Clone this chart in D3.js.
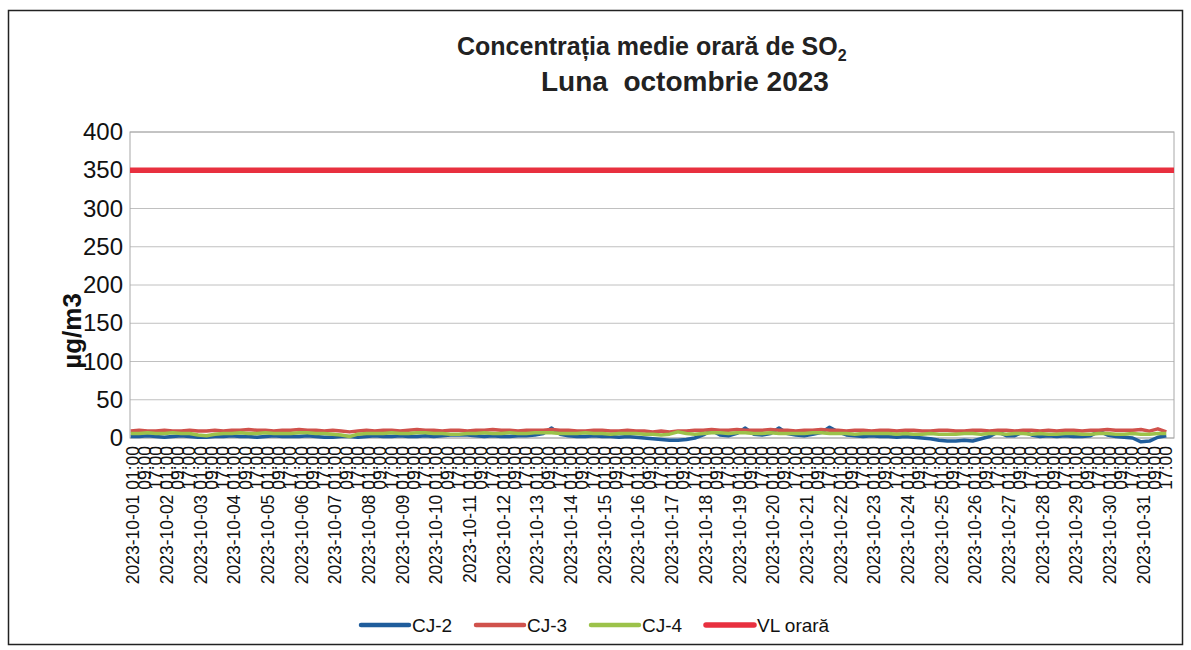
<!DOCTYPE html>
<html>
<head>
<meta charset="utf-8">
<script src="https://cdn.jsdelivr.net/npm/d3@7"></script>
<style>
body { margin: 0; background: #fff; }
svg { display: block; font-family: "Liberation Sans", Arial, sans-serif; }
</style>
</head>
<body>
<svg id="chart" width="1191" height="650"></svg>
<script>
// values read every 6 hours (124 points over the 744 hours of October)
var stepHours = 6;
var cj2 = [2,2,3,2,1,2,3,2,1,1, 2,2,3,2,2,1,2,3,2,2, 2,3,2,1,1,2,2,1,2,3, 2,2,3,2,2,3,2,3,4,4,
  4,3,2,3,2,2,3,3,4,6, 13,5,3,2,2,3,2,2,1,2, 1,0,-1,-2,-3,-3,-2,0,4,10, 4,3,6,13,5,4,6,13,6,4,
  3,5,7,14,8,4,3,2,3,2, 2,1,2,1,0,-1,-3,-4,-4,-3, -4,-1,2,8,3,3,8,4,2,3, 2,3,2,2,3,9,4,2,1,0,
  -5,-4,1,3];
var cj3 = [9,10,9,9,10,9,9,10,9,9, 10,9,10,10,11,10,10,9,10,10, 11,10,10,9,10,9,8,9,10,9, 10,10,9,10,11,10,10,9,10,10,
  9,10,10,11,10,10,9,10,10,10, 11,10,10,9,9,10,10,9,9,10, 9,9,8,9,8,9,9,10,10,11, 10,10,11,10,10,10,11,10,10,9,
  10,10,11,10,10,9,10,10,9,10, 10,9,10,10,9,9,10,10,9,9, 10,10,9,10,10,9,10,10,9,10, 9,10,10,9,10,10,11,10,10,10,
  11,9,12,8];
var cj4 = [6,6,7,6,6,7,6,6,4,3, 5,6,6,7,6,6,7,6,6,6, 7,7,6,6,5,4,2,5,6,6, 6,7,6,6,7,7,6,6,5,5,
  6,6,7,6,6,7,6,6,7,7, 7,6,6,6,7,6,6,5,6,6, 6,5,5,4,5,8,6,5,6,7, 7,6,7,7,6,6,7,6,6,6,
  6,7,7,6,6,6,5,6,6,6, 6,5,6,5,5,6,5,5,5,6, 6,5,6,6,5,6,6,5,6,5, 5,6,6,5,5,6,6,5,5,6,
  5,5,6,6];
var vlOrara = 350;
var totalHours = 744;
var yTicks = [0,50,100,150,200,250,300,350,400];
var tickHours = [1, 9, 17]; // hours of day that carry a label

var seriesNames = ["CJ-2", "CJ-3", "CJ-4", "VL orară"];
var seriesColors = ["#1f5d9c", "#d0524c", "#9cc24a", "#e8303f"];

var svg = d3.select("#chart");
var margin = {left: 130, right: 17, top: 132, bottom: 212};
var width = 1191 - margin.left - margin.right;
var height = 650 - margin.top - margin.bottom;

// outer frame
svg.append("rect")
  .attr("x", 8.5).attr("y", 10.5)
  .attr("width", 1174).attr("height", 634)
  .attr("fill", "none").attr("stroke", "#222").attr("stroke-width", 1.5);

// title
var title = svg.append("text")
  .attr("font-weight", "bold")
  .attr("font-size", 25)
  .attr("fill", "#222");
title.append("tspan").attr("x", 457).attr("y", 55).text("Concentrația medie orară de SO");
title.append("tspan").attr("font-size", 16).attr("dy", 6).text("2");
title.append("tspan").attr("x", 541).attr("y", 91).attr("font-size", 28)
  .attr("xml:space", "preserve").text("Luna  octombrie 2023");

var g = svg.append("g").attr("transform", "translate(" + margin.left + "," + margin.top + ")");

var x = d3.scaleLinear().domain([0, totalHours]).range([0, width]);
var y = d3.scaleLinear().domain([0, 400]).range([height, 0]);

// grid lines
g.append("g")
  .selectAll("line")
  .data(yTicks)
  .enter().append("line")
  .attr("x1", 0).attr("x2", width)
  .attr("y1", function(d) { return y(d); })
  .attr("y2", function(d) { return y(d); })
  .attr("stroke", "#c0c0c0").attr("stroke-width", 1);

g.append("rect")
  .attr("width", width).attr("height", height)
  .attr("fill", "none").attr("stroke", "#a8a8a8");

// y axis
var yAxis = g.append("g")
  .call(d3.axisLeft(y).tickValues(yTicks).tickSize(0).tickPadding(7));
yAxis.select(".domain").remove();
yAxis.selectAll("text")
  .attr("font-size", 24)
  .attr("font-family", "Liberation Sans, Arial, sans-serif")
  .attr("fill", "#111");

svg.append("text")
  .attr("transform", "translate(81,331) rotate(-90)")
  .attr("text-anchor", "middle")
  .attr("font-weight", "bold")
  .attr("font-size", 26)
  .attr("fill", "#111")
  .text("µg/m3");

// x axis labels, every 8 hours
var labels = [];
for (var h = 0; h < totalHours; h++) {
  var hod = h % 24 + 1;
  if (tickHours.indexOf(hod) >= 0) {
    var day = Math.floor(h / 24) + 1;
    var hh = (hod < 10 ? "0" : "") + hod + ":00";
    var txt = hod == 1 ? "2023-10-" + (day < 10 ? "0" : "") + day + " " + hh : hh;
    labels.push({h: h, text: txt});
  }
}
var xAxis = g.append("g")
  .attr("transform", "translate(0," + height + ")")
  .call(d3.axisBottom(x)
    .tickValues(labels.map(function(d) { return d.h + 0.5; }))
    .tickFormat(function(d, i) { return labels[i].text; })
    .tickSize(0));
xAxis.select(".domain").remove();
xAxis.selectAll("text")
  .attr("font-size", 17.5)
  .attr("font-family", "Liberation Sans, Arial, sans-serif")
  .attr("fill", "#111")
  .attr("text-anchor", "end")
  .attr("transform", "rotate(-90)")
  .attr("x", -8)
  .attr("y", 2)
  .attr("dy", "0.35em");

// data lines
var line = d3.line()
  .x(function(d, i) { return x(i * stepHours + 0.5); })
  .y(function(d) { return y(d); });

[cj2, cj3, cj4].forEach(function(s, k) {
  g.append("path")
    .datum(s)
    .attr("d", line)
    .attr("fill", "none")
    .attr("stroke", seriesColors[k])
    .attr("stroke-width", 3.5)
    .attr("stroke-linejoin", "round");
});

g.append("line")
  .attr("x1", 0).attr("x2", width)
  .attr("y1", y(vlOrara)).attr("y2", y(vlOrara))
  .attr("stroke", seriesColors[3])
  .attr("stroke-width", 5.5);

// legend
var legend = svg.append("g")
  .selectAll("g")
  .data(seriesNames)
  .enter().append("g")
  .attr("transform", function(d, i) { return "translate(" + (361 + i * 115) + ",625)"; });

legend.append("line")
  .attr("x1", 0).attr("x2", 48)
  .attr("stroke", function(d, i) { return seriesColors[i]; })
  .attr("stroke-width", function(d, i) { return i == 3 ? 5.5 : 4.5; })
  .attr("stroke-linecap", "round");

legend.append("text")
  .attr("x", 51)
  .attr("dy", "0.35em")
  .attr("font-size", 19)
  .attr("fill", "#111")
  .text(function(d) { return d; });
</script>
</body>
</html>
